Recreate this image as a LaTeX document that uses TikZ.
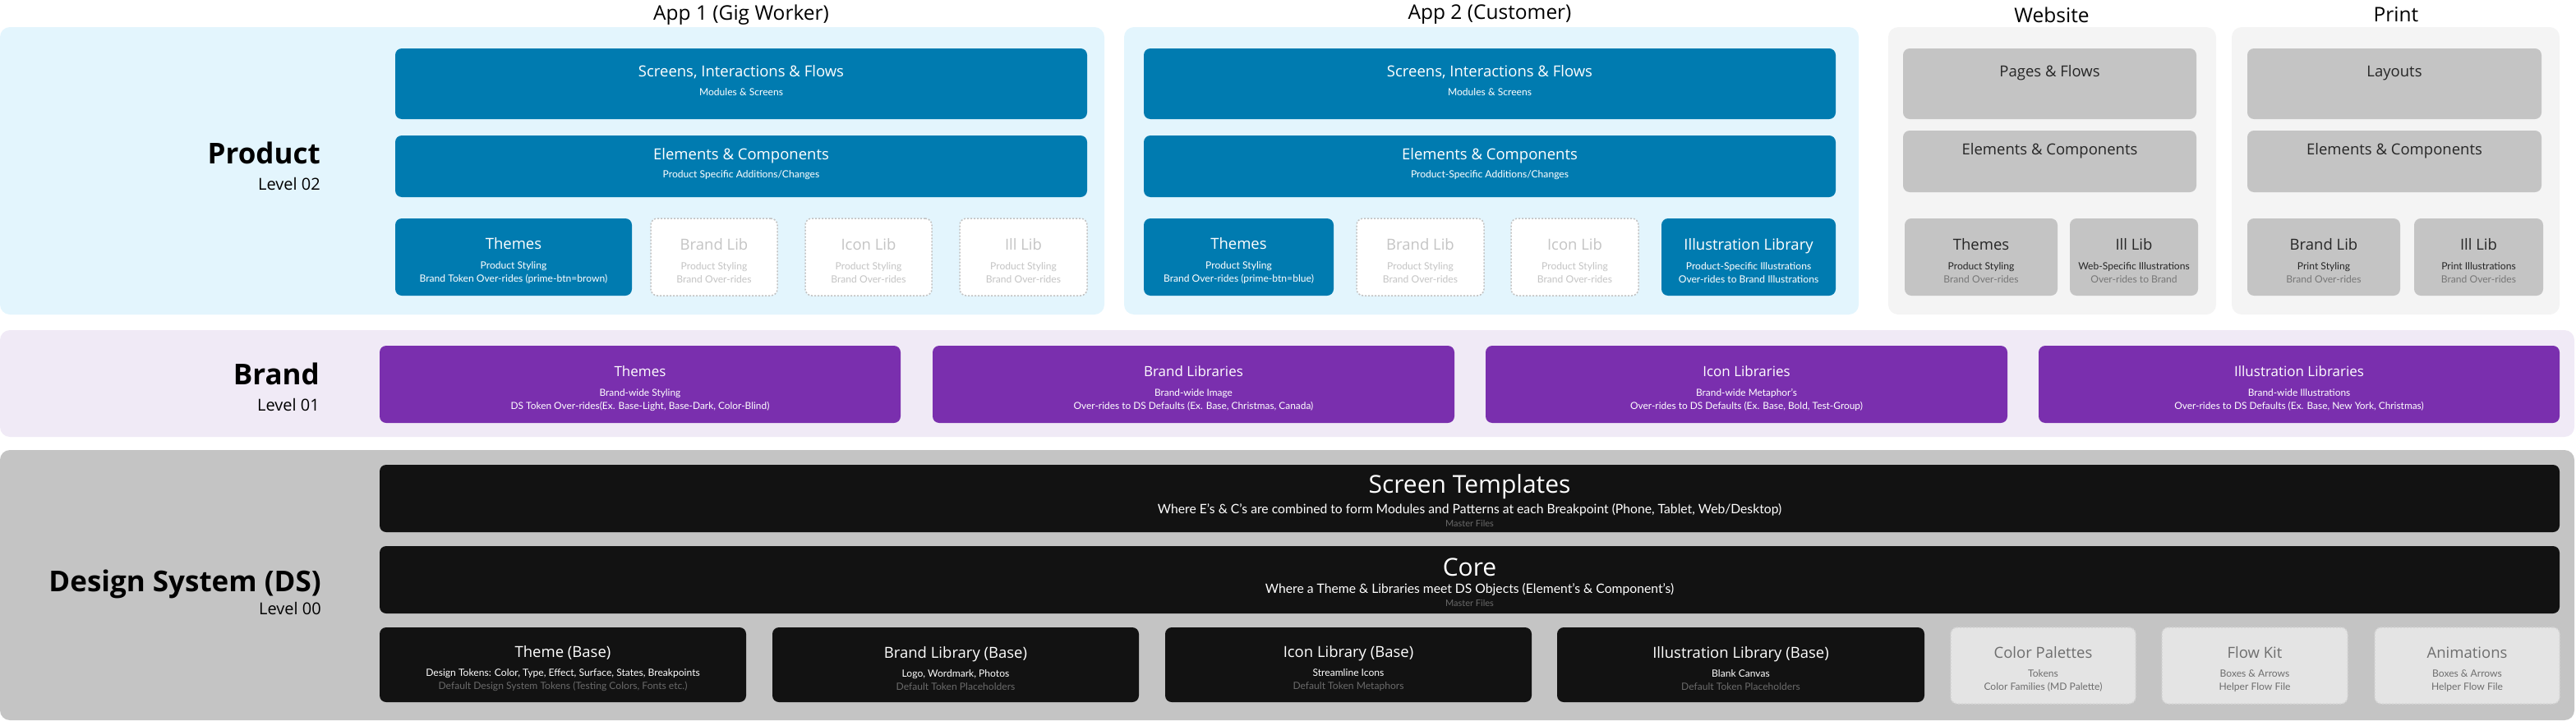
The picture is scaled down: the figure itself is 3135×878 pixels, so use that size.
\documentclass[tikz,border=0pt]{standalone}
\usepackage{fontspec}
\setmainfont{Open Sans}
\newfontfamily\latofont{Lato}
\usepackage{xcolor}

\definecolor{prodbg}{HTML}{E3F5FD}
\definecolor{webbg}{HTML}{F4F4F4}
\definecolor{appblue}{HTML}{007BB0}
\definecolor{cardgrey}{HTML}{C4C4C4}
\definecolor{brandbg}{HTML}{F0EAF6}
\definecolor{brandpurple}{HTML}{7A2FAE}
\definecolor{dsgrey}{HTML}{C4C4C4}
\definecolor{dsblack}{HTML}{121212}
\definecolor{ghostline}{HTML}{C2C2C2}
\definecolor{ghosttxt}{HTML}{C4C4C4}
\definecolor{dsghostfill}{HTML}{E4E4E4}
\definecolor{dsghostline}{HTML}{D4D4D4}
\definecolor{dsghosttxt}{HTML}{6E6E6E}
\definecolor{mutedtxt}{HTML}{777777}
\definecolor{dsmuted}{HTML}{6A6A6A}

\newcommand{\subtxt}{\latofont\fontsize{12.1}{16}\selectfont}
\newcommand{\brandsub}{\latofont\fontsize{11.9}{16}\selectfont}
\newcommand{\dssub}{\latofont\fontsize{11}{16.5}\selectfont}
\newcommand{\bigttl}[1]{{\rmfamily\fontsize{18.5}{22}\selectfont #1}}
\newcommand{\cardttl}[1]{{\rmfamily\fontsize{18.5}{22}\selectfont\rule{0pt}{23pt}#1}}
\newcommand{\brandttl}[1]{{\rmfamily\fontsize{17}{20}\selectfont\rule{0pt}{23pt}#1}}
\newcommand{\dsttl}[1]{{\rmfamily\fontsize{30}{34}\selectfont\rule{0pt}{28.5pt}#1}}
\newcommand{\dsline}[1]{{\fontsize{15.7}{18}\selectfont #1}}
\newcommand{\lift}{\rule[-8pt]{0pt}{8pt}}

\begin{document}
\begin{tikzpicture}[x=1pt, y=-1pt,
    area/.style={anchor=north west, inner sep=0pt, outer sep=0pt, rounded corners=12pt},
    card/.style={anchor=north west, inner sep=0pt, outer sep=0pt, rounded corners=8pt, align=center, font=\subtxt},
    bluecard/.style={card, fill=appblue, text=white},
    ghostcard/.style={card, fill=white, draw=ghostline, dash pattern=on 2pt off 2pt, line width=1.5pt, text=ghosttxt},
    greycard/.style={card, fill=cardgrey, text=black!85},
    purplecard/.style={card, fill=brandpurple, text=white, font=\brandsub},
    dscard/.style={card, fill=dsblack, text=white},
    dsghost/.style={card, fill=dsghostfill, draw=dsghostline, dash pattern=on 2pt off 2pt, line width=1.5pt, text=dsghosttxt},
    colhead/.style={font=\fontsize{24.5}{28}\selectfont},
    levelname/.style={anchor=base east, inner sep=0pt, font=\fontsize{35}{40}\selectfont\bfseries},
    levelno/.style={anchor=base east, inner sep=0pt, font=\fontsize{20}{24}\selectfont}]
    \useasboundingbox (0,0) rectangle (3135,878);

    % Product (level 02)
    \node[area, fill=prodbg, minimum width=1344pt, minimum height=350pt] (app1) at (0,33) {};
    \node[area, fill=prodbg, minimum width=894pt, minimum height=350pt] (app2) at (1368,33) {};
    \node[area, fill=webbg, minimum width=399pt, minimum height=350pt] (web) at (2298,33) {};
    \node[area, fill=webbg, minimum width=399pt, minimum height=350pt] (print) at (2716,33) {};

    \node[colhead] (hdapp1) at (902,18) {App 1 (Gig Worker)};
    \node[colhead] (hdapp2) at (1813,18) {App 2 (Customer)};
    \node[colhead] (hdweb) at (2497,18) {Website};
    \node[colhead] (hdprint) at (2916,18) {Print};

    \node[levelname] (prodname) at (390,199) {Product};
    \node[levelno] (prodlvl) at (390,231) {Level 02};

    \node[bluecard, minimum width=842pt, minimum height=86pt] (scr1) at (481,59) {\bigttl{Screens, Interactions \& Flows}\\[6.5pt] Modules \& Screens\lift};
    \node[bluecard, minimum width=842pt, minimum height=75pt] (elm1) at (481,165) {\bigttl{Elements \& Components}\\[6.5pt] Product Specific Additions/Changes\lift};
    \node[bluecard, minimum width=288pt, minimum height=94pt] (thm1) at (481,266) {\cardttl{Themes}\\[7.7pt] Product Styling\\ Brand Token Over-rides (prime-btn=brown)};
    \node[ghostcard, minimum width=154pt, minimum height=94pt] (brl1) at (792,266) {\cardttl{Brand Lib}\\[7.7pt] Product Styling\\ Brand Over-rides};
    \node[ghostcard, minimum width=154pt, minimum height=94pt] (icl1) at (980,266) {\cardttl{Icon Lib}\\[7.7pt] Product Styling\\ Brand Over-rides};
    \node[ghostcard, minimum width=155pt, minimum height=94pt] (ill1) at (1168,266) {\cardttl{Ill Lib}\\[7.7pt] Product Styling\\ Brand Over-rides};

    \node[bluecard, minimum width=842pt, minimum height=86pt] (scr2) at (1392,59) {\bigttl{Screens, Interactions \& Flows}\\[6.5pt] Modules \& Screens\lift};
    \node[bluecard, minimum width=842pt, minimum height=75pt] (elm2) at (1392,165) {\bigttl{Elements \& Components}\\[6.5pt] Product-Specific Additions/Changes\lift};
    \node[bluecard, minimum width=231pt, minimum height=94pt] (thm2) at (1392,266) {\cardttl{Themes}\\[7.7pt] Product Styling\\ Brand Over-rides (prime-btn=blue)};
    \node[ghostcard, minimum width=155pt, minimum height=94pt] (brl2) at (1651,266) {\cardttl{Brand Lib}\\[7.7pt] Product Styling\\ Brand Over-rides};
    \node[ghostcard, minimum width=155pt, minimum height=94pt] (icl2) at (1839,266) {\cardttl{Icon Lib}\\[7.7pt] Product Styling\\ Brand Over-rides};
    \node[bluecard, minimum width=212pt, minimum height=94pt] (ill2) at (2022,266) {\cardttl{Illustration Library}\\[7.7pt] Product-Specific Illustrations\\ Over-rides to Brand Illustrations};

    \node[greycard, minimum width=357pt, minimum height=86pt] (pgs) at (2316,59) {\bigttl{Pages \& Flows}\\[6.5pt]\lift};
    \node[greycard, minimum width=357pt, minimum height=75pt] (elmw) at (2316,159) {\bigttl{Elements \& Components}\\[6.5pt]\lift};
    \node[greycard, minimum width=186pt, minimum height=94pt] (thmw) at (2318,266) {\cardttl{Themes}\\[7.7pt] Product Styling\\ \textcolor{mutedtxt}{Brand Over-rides}};
    \node[greycard, minimum width=156pt, minimum height=94pt] (illw) at (2519,266) {\cardttl{Ill Lib}\\[7.7pt] Web-Specific Illustrations\\ \textcolor{mutedtxt}{Over-rides to Brand}};

    \node[greycard, minimum width=358pt, minimum height=86pt] (lay) at (2735,59) {\bigttl{Layouts}\\[6.5pt]\lift};
    \node[greycard, minimum width=358pt, minimum height=75pt] (elmp) at (2735,159) {\bigttl{Elements \& Components}\\[6.5pt]\lift};
    \node[greycard, minimum width=186pt, minimum height=94pt] (brlp) at (2735,266) {\cardttl{Brand Lib}\\[7.7pt] Print Styling\\ \textcolor{mutedtxt}{Brand Over-rides}};
    \node[greycard, minimum width=157pt, minimum height=94pt] (illp) at (2938,266) {\cardttl{Ill Lib}\\[7.7pt] Print Illustrations\\ \textcolor{mutedtxt}{Brand Over-rides}};

    % Brand (level 01)
    \node[area, fill=brandbg, minimum width=3133pt, minimum height=130pt] (brand) at (0,402) {};
    \node[levelname] (brandname) at (389,468) {Brand};
    \node[levelno] (brandlvl) at (389,500) {Level 01};

    \node[purplecard, minimum width=634pt, minimum height=94pt] (bthm) at (462,421) {\brandttl{Themes}\\[7.7pt] Brand-wide Styling\\ DS Token Over-rides(Ex. Base-Light, Base-Dark, Color-Blind)};
    \node[purplecard, minimum width=635pt, minimum height=94pt] (blib) at (1135,421) {\brandttl{Brand Libraries}\\[7.7pt] Brand-wide Image\\ Over-rides to DS Defaults (Ex. Base, Christmas, Canada)};
    \node[purplecard, minimum width=635pt, minimum height=94pt] (bicon) at (1808,421) {\brandttl{Icon Libraries}\\[7.7pt] Brand-wide Metaphor’s\\ Over-rides to DS Defaults (Ex. Base, Bold, Test-Group)};
    \node[purplecard, minimum width=634pt, minimum height=94pt] (bill) at (2481,421) {\brandttl{Illustration Libraries}\\[7.7pt] Brand-wide Illustrations\\ Over-rides to DS Defaults (Ex. Base, New York, Christmas)};

    % Design System (level 00)
    \node[area, fill=dsgrey, minimum width=3133pt, minimum height=329pt] (ds) at (0,548) {};
    \node[levelname] (dsname) at (391,720) {Design System (DS)};
    \node[levelno] (dslvl) at (391,748) {Level 00};

    \node[dscard, font=\dssub, minimum width=2653pt, minimum height=82pt] (tpl) at (462,566) {\dsttl{Screen Templates}\\[4pt] \dsline{Where E’s \& C’s are combined to form Modules and Patterns at each Breakpoint (Phone, Tablet, Web/Desktop)}\\ \textcolor{dsmuted}{Master Files}};
    \node[dscard, font=\dssub, minimum width=2653pt, minimum height=82pt] (core) at (462,665) {\dsttl{Core}\\[4pt] \dsline{Where a Theme \& Libraries meet DS Objects (Element’s \& Component’s)}\\ \textcolor{dsmuted}{Master Files}};

    \node[dscard, minimum width=446pt, minimum height=91pt] (thmb) at (462,764) {\cardttl{Theme (Base)}\\[7.7pt] Design Tokens: Color, Type, Effect, Surface, States, Breakpoints\\ \textcolor{dsmuted}{Default Design System Tokens (Testing Colors, Fonts etc.)}};
    \node[dscard, minimum width=446pt, minimum height=91pt] (brlb) at (940,764) {\cardttl{Brand Library (Base)}\\[7.7pt] Logo, Wordmark, Photos\\ \textcolor{dsmuted}{Default Token Placeholders}};
    \node[dscard, minimum width=446pt, minimum height=91pt] (iclb) at (1418,764) {\cardttl{Icon Library (Base)}\\[7.7pt] Streamline Icons\\ \textcolor{dsmuted}{Default Token Metaphors}};
    \node[dscard, minimum width=447pt, minimum height=91pt] (illb) at (1895,764) {\cardttl{Illustration Library (Base)}\\[7.7pt] Blank Canvas\\ \textcolor{dsmuted}{Default Token Placeholders}};
    \node[dsghost, minimum width=225pt, minimum height=93pt] (cpal) at (2374,764) {\cardttl{Color Palettes}\\[7.7pt] Tokens\\ Color Families (MD Palette)};
    \node[dsghost, minimum width=226pt, minimum height=93pt] (flow) at (2631,764) {\cardttl{Flow Kit}\\[7.7pt] Boxes \& Arrows\\ Helper Flow File};
    \node[dsghost, minimum width=225pt, minimum height=93pt] (anim) at (2890,764) {\cardttl{Animations}\\[7.7pt] Boxes \& Arrows\\ Helper Flow File};
\end{tikzpicture}
\end{document}
